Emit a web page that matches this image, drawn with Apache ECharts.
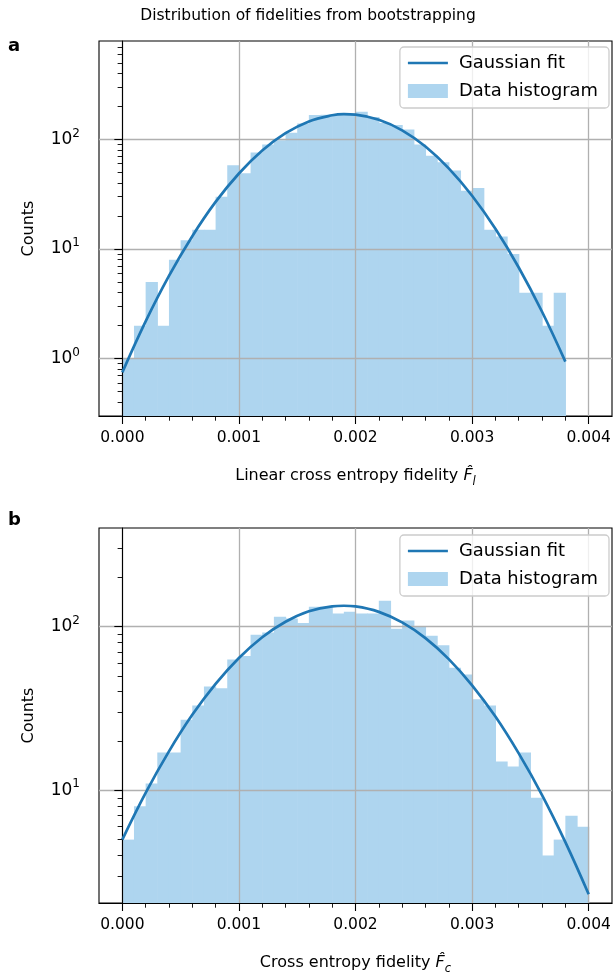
<!DOCTYPE html>
<html><head><meta charset="utf-8">
<script src="https://cdn.jsdelivr.net/npm/echarts@6/dist/echarts.min.js"></script>
<style>html,body{margin:0;padding:0;background:#fff}#c{width:616px;height:977px}</style>
</head><body><div id="c"></div>
<script>
// ---- data ----
const binWidth = 0.0001;
const binLeftA = [0,0.0001,0.0002,0.0003,0.0004,0.0005,0.0006,0.0007,0.0008,0.0009,0.0010,0.0011,0.0012,0.0013,0.0014,0.0015,0.0016,0.0017,0.0018,0.0019,0.0020,0.0021,0.0022,0.0023,0.0024,0.0025,0.0026,0.0027,0.0028,0.0029,0.0030,0.0031,0.0032,0.0033,0.0034,0.0035,0.0036,0.0037];
const countsA = [1,2,5,2,8,12,15,15,30,58,49,76,90,98,115,140,167,168,170,168,179,160,141,135,123,90,71,62,52,34,36,15,13,9,4,4,2,4];
const binLeftB = [0,0.0001,0.0002,0.0003,0.0004,0.0005,0.0006,0.0007,0.0008,0.0009,0.0010,0.0011,0.0012,0.0013,0.0014,0.0015,0.0016,0.0017,0.0018,0.0019,0.0020,0.0021,0.0022,0.0023,0.0024,0.0025,0.0026,0.0027,0.0028,0.0029,0.0030,0.0031,0.0032,0.0033,0.0034,0.0035,0.0036,0.0037,0.0038,0.0039];
const countsB = [5,8,11,17,17,27,33,43,42,63,66,89,92,115,112,105,132,132,120,123,120,120,144,97,109,100,88,77,56,51,36,33,15,14,17,9,4,5,7,6];
const fitXA = [0,0.0002,0.0004,0.0006,0.0008,0.0010,0.0012,0.0014,0.0016,0.0018,0.0019,0.0020,0.0022,0.0024,0.0026,0.0028,0.0030,0.0032,0.0034,0.0036,0.0038];
const fitYA = [0.75,2.19,5.69,13.1,26.9,48.9,79.3,114,146,166,170,168,151,121,86.1,54.4,30.6,15.3,6.79,2.68,0.94];
const fitXB = [0,0.0002,0.0004,0.0006,0.0008,0.0010,0.0012,0.0014,0.0016,0.0018,0.0019,0.0020,0.0022,0.0024,0.0026,0.0028,0.0030,0.0032,0.0034,0.0036,0.0038,0.0040];
const fitYB = [5.0,9.65,17.3,28.9,44.7,64.3,86.1,107,124,133,134,132.7,123,106,85,63.3,43.8,28.2,16.8,9.36,4.83,2.32];
const xMajorTicks = [0,0.001,0.002,0.003,0.004];
const xMinorTicks = [0.0002,0.0004,0.0006,0.0008,0.0012,0.0014,0.0016,0.0018,0.0022,0.0024,0.0026,0.0028,0.0032,0.0034,0.0036,0.0038];
const yMajorA = [1,10,100];
const yMinorA = [0.4,0.5,0.6,0.7,0.8,0.9,2,3,4,5,6,7,8,9,20,30,40,50,60,70,80,90,200,300,400,500,600,700];
const yMajorB = [10,100];
const yMinorB = [3,4,5,6,7,8,9,20,30,40,50,60,70,80,90,200,300];
const xRange = [-0.0002, 0.0042];
const yRangeA = [0.30, 790];
const yRangeB = [2.05, 400];
const titleText = 'Distribution of fidelities from bootstrapping';
const xNameA = 'Linear cross entropy fidelity {it|F\u0302}{sub|l}';
const xNameB = 'Cross entropy fidelity {it|F\u0302}{sub|c}';
const yName = 'Counts';
const seriesNames = ['Gaussian fit', 'Data histogram'];

// ---- style ----
const FONT = 'DejaVu Sans';
const LINE_C = '#1f77b4';
const BAR_C = '#aed5ef';
const GRID_C = '#b0b0b0';
const LINE_ICON = 'path://M0,0L0.01,0M0,5.65L40,5.65L40,8.35L0,8.35ZM0,14L0.01,14';

const chart = echarts.init(document.getElementById('c'), null, {renderer: 'canvas'});

function xAxes(gridIndex, name) {
  return [{
    type: 'value', gridIndex, min: xRange[0], max: xRange[1], z: 3,
    name, nameLocation: 'middle', nameGap: 48,
    nameTextStyle: {fontFamily: FONT, fontSize: 16, color: '#000', lineHeight: 24,
      rich: {it: {fontFamily: FONT, fontStyle: 'italic', fontSize: 16, lineHeight: 24, color: '#000'},
             sub: {fontFamily: FONT, fontStyle: 'italic', fontSize: 11.5, verticalAlign: 'bottom', lineHeight: 11, color: '#000'}}},
    axisLine: {show: true, onZero: false, lineStyle: {color: '#000', width: 1.1}},
    axisTick: {show: true, length: 8, inside: false, customValues: xMajorTicks, lineStyle: {color: '#000', width: 1.1}},
    axisLabel: {show: true, customValues: xMajorTicks, margin: 14, fontFamily: FONT, fontSize: 15.5, color: '#000',
      formatter: v => v.toFixed(3)},
    splitLine: {show: true, lineStyle: {color: GRID_C, width: 1.3}}
  }, {
    type: 'value', gridIndex, min: xRange[0], max: xRange[1], z: 3, position: 'bottom', offset: 0,
    axisLine: {show: false}, splitLine: {show: false}, axisLabel: {show: false},
    axisTick: {show: true, length: 4.7, customValues: xMinorTicks, lineStyle: {color: '#000', width: 0.9}}
  }];
}
function yAxes(gridIndex, range, major, minor) {
  return [{
    type: 'log', logBase: 10, gridIndex, min: range[0], max: range[1], z: 3, position: 'left',
    name: yName, nameLocation: 'middle', nameGap: 62,
    nameTextStyle: {fontFamily: FONT, fontSize: 16, color: '#000'},
    axisLine: {show: true, lineStyle: {color: '#000', width: 1.1}},
    axisTick: {show: true, length: 8, customValues: major, lineStyle: {color: '#000', width: 1.1}},
    axisLabel: {show: true, customValues: major, margin: 19, fontFamily: FONT, fontSize: 17, color: '#000', lineHeight: 24,
      formatter: v => '10{sup|' + Math.round(Math.log10(v)) + '}',
      rich: {sup: {fontFamily: FONT, fontSize: 12, verticalAlign: 'top', lineHeight: 12, color: '#000'}}},
    splitLine: {show: true, lineStyle: {color: GRID_C, width: 1.3}}
  }, {
    type: 'log', logBase: 10, gridIndex, min: range[0], max: range[1], z: 3, position: 'left', offset: 0,
    axisLine: {show: false}, splitLine: {show: false}, axisLabel: {show: false},
    axisTick: {show: true, length: 4.7, customValues: minor, lineStyle: {color: '#000', width: 0.9}}
  }];
}

function histData(lefts, counts) {
  return lefts.map((l, i) => [l, l + binWidth, counts[i]]);
}
function histSeries(xi, yi, lefts, counts, yMin) {
  return {
    type: 'custom', name: seriesNames[1], xAxisIndex: xi, yAxisIndex: yi, z: 2,
    itemStyle: {color: BAR_C},
    encode: {x: [0, 1], y: 2},
    data: histData(lefts, counts),
    renderItem: function (params, api) {
      const p0 = api.coord([api.value(0), api.value(2)]);
      const p1 = api.coord([api.value(1), yMin]);
      return {type: 'rect', shape: {x: p0[0], y: p0[1], width: p1[0] - p0[0] + 0.6, height: p1[1] - p0[1]},
        style: {fill: BAR_C}};
    }
  };
}
function fitSeries(xi, yi, xs, ys) {
  return {
    type: 'line', name: seriesNames[0], xAxisIndex: xi, yAxisIndex: yi, z: 5,
    smooth: 0.4, symbol: 'none', showSymbol: false,
    lineStyle: {color: LINE_C, width: 2.7}, itemStyle: {color: LINE_C},
    data: xs.map((x, i) => [x, ys[i]])
  };
}
function legend(top) {
  return {
    orient: 'vertical', right: 7, top, z: 10,
    data: [{name: seriesNames[0], icon: LINE_ICON, itemStyle: {color: LINE_C}}, {name: seriesNames[1], icon: 'rect'}],
    itemWidth: 40, itemHeight: 14, itemGap: 9,
    padding: [6.5, 11, 7.5, 8],
    backgroundColor: 'rgba(255,255,255,0.8)', borderColor: '#cccccc', borderWidth: 1.3, borderRadius: 4,
    textStyle: {fontFamily: FONT, fontSize: 17.9, color: '#000', padding: [0, 0, 0, 6], lineHeight: 19},
    selectedMode: false
  };
}

const xa = xAxes(0, xNameA), xb = xAxes(1, xNameB);
const ya = yAxes(0, yRangeA, yMajorA, yMinorA), yb = yAxes(1, yRangeB, yMajorB, yMinorB);

chart.setOption({
  animation: false,
  backgroundColor: '#fff',
  textStyle: {fontFamily: FONT},
  title: {text: titleText, left: 'center', top: 3,
    textStyle: {fontFamily: FONT, fontSize: 15.5, fontWeight: 'normal', color: '#000'}},
  graphic: [
    {type: 'text', left: 8, top: 37, style: {text: 'a', fontFamily: FONT, fontSize: 18, fontWeight: 'bold', fill: '#000'}},
    {type: 'text', left: 8, top: 511, style: {text: 'b', fontFamily: FONT, fontSize: 18, fontWeight: 'bold', fill: '#000'}}
  ],
  legend: [legend(47), legend(535)],
  grid: [
    {left: 99, top: 41, width: 513, height: 375, show: true, borderColor: '#000', borderWidth: 1.1, backgroundColor: 'transparent'},
    {left: 99, top: 528, width: 513, height: 375, show: true, borderColor: '#000', borderWidth: 1.1, backgroundColor: 'transparent'}
  ],
  xAxis: [xa[0], xa[1], xb[0], xb[1]],
  yAxis: [ya[0], ya[1], yb[0], yb[1]],
  series: [
    fitSeries(0, 0, fitXA, fitYA),
    histSeries(0, 0, binLeftA, countsA, yRangeA[0]),
    fitSeries(2, 2, fitXB, fitYB),
    histSeries(2, 2, binLeftB, countsB, yRangeB[0])
  ]
});
</script></body></html>
